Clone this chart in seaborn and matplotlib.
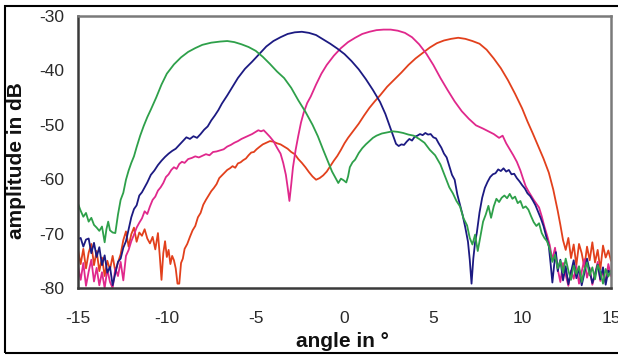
import numpy as np
import pandas as pd

import matplotlib
matplotlib.use('Agg')
import matplotlib.pyplot as plt
from matplotlib.patches import Rectangle
import seaborn as sns

# beam patterns (angle in deg, amplitude in dB)
green_angle = [-15.0, -14.85, -14.7, -14.55, -14.4, -14.25, -14.1, -13.95, -13.8, -13.65, -13.5, -13.4, -13.3, -13.2,
               -13.05, -12.9, -12.75, -12.6, -12.45, -12.3, -12.15, -12.0, -11.85, -11.7, -11.5, -11.3, -11.1, -10.9,
               -10.6, -10.3, -10.0, -9.6, -9.2, -8.8, -8.4, -8.0, -7.5, -7.0, -6.6, -6.2, -5.8, -5.4, -5.0, -4.6,
               -4.2, -3.8, -3.4, -3.0, -2.6, -2.2, -1.8, -1.5, -1.2, -0.9, -0.7, -0.5, -0.35, -0.2, -0.05, 0.1,
               0.2, 0.3, 0.45, 0.6, 0.8, 1.0, 1.2, 1.4, 1.6, 1.8, 2.1, 2.4, 2.7, 3.0, 3.3, 3.6, 3.9, 4.2, 4.5,
               4.8, 5.1, 5.4, 5.7, 5.9, 6.1, 6.3, 6.5, 6.7, 6.9, 7.05, 7.2, 7.35, 7.5, 7.65, 7.8, 7.95, 8.1, 8.25,
               8.4, 8.55, 8.7, 8.85, 9.0, 9.15, 9.3, 9.45, 9.6, 9.75, 9.9, 10.05, 10.2, 10.35, 10.5, 10.65, 10.8,
               10.95, 11.1, 11.25, 11.4, 11.55, 11.7, 11.85, 12.0, 12.15, 12.3, 12.45, 12.6, 12.75, 12.9, 13.05,
               13.2, 13.35, 13.5, 13.65, 13.8, 13.95, 14.1, 14.25, 14.4, 14.55, 14.7, 14.85, 15.0]
green_db = [-64.5, -65.8, -66.9, -66.2, -67.8, -67.1, -68.4, -68.9, -69.5, -68.7, -71.6, -69.2, -67.8, -69.4,
            -69.8, -69.9, -66.5, -63.8, -62.5, -60.1, -58.4, -57.0, -55.8, -54.1, -52.0, -50.2, -48.6, -47.2,
            -45.0, -42.6, -40.6, -38.9, -37.6, -36.6, -35.9, -35.3, -34.9, -34.7, -34.6, -34.8, -35.2, -35.7,
            -36.4, -37.5, -38.8, -40.2, -41.4, -43.2, -45.5, -47.6, -50.0, -52.1, -54.6, -57.0, -58.6, -59.8,
            -60.7, -59.9, -60.2, -60.6, -59.5, -57.8, -56.9, -56.4, -55.2, -54.3, -53.6, -53.0, -52.4, -52.0,
            -51.6, -51.4, -51.2, -51.3, -51.5, -51.8, -52.0, -52.6, -53.3, -54.6, -55.6, -57.3, -59.8, -61.5,
            -62.6, -64.0, -65.0, -67.2, -68.5, -70.8, -72.0, -70.2, -73.2, -70.5, -67.8, -66.5, -64.9, -67.1,
            -65.0, -63.6, -64.2, -63.4, -63.0, -63.5, -62.7, -63.6, -63.2, -64.4, -64.0, -65.3, -65.0, -65.6,
            -66.8, -67.9, -68.6, -68.1, -69.9, -70.8, -71.4, -72.8, -75.2, -73.9, -76.4, -75.0, -77.2, -74.6,
            -76.8, -78.5, -75.9, -77.4, -76.0, -78.9, -76.6, -75.3, -77.7, -76.2, -78.4, -75.8, -77.0, -79.2,
            -76.5, -77.9, -76.8]

blue_angle = [-15.0, -14.85, -14.7, -14.55, -14.4, -14.25, -14.1, -13.95, -13.8, -13.65, -13.5, -13.35, -13.2,
              -13.05, -12.9, -12.75, -12.6, -12.45, -12.3, -12.15, -12.0, -11.85, -11.7, -11.55, -11.4, -11.25,
              -11.1, -10.9, -10.7, -10.5, -10.3, -10.1, -9.9, -9.7, -9.5, -9.3, -9.1, -8.9, -8.7, -8.5, -8.3,
              -8.1, -7.9, -7.7, -7.5, -7.3, -7.1, -6.9, -6.6, -6.3, -6.0, -5.6, -5.2, -4.8, -4.4, -4.0, -3.6,
              -3.2, -2.8, -2.4, -2.0, -1.6, -1.2, -0.8, -0.4, 0.0, 0.4, 0.8, 1.2, 1.6, 2.0, 2.3, 2.55, 2.75,
              2.9, 3.05, 3.2, 3.35, 3.5, 3.65, 3.8, 3.95, 4.1, 4.25, 4.4, 4.55, 4.7, 4.85, 5.0, 5.15, 5.3, 5.45,
              5.6, 5.75, 5.9, 6.05, 6.2, 6.35, 6.5, 6.65, 6.8, 6.95, 7.05, 7.15, 7.25, 7.35, 7.45, 7.6, 7.75,
              7.9, 8.05, 8.2, 8.35, 8.5, 8.65, 8.8, 8.95, 9.1, 9.25, 9.4, 9.55, 9.7, 9.85, 10.0, 10.15, 10.3,
              10.45, 10.6, 10.75, 10.9, 11.05, 11.2, 11.35, 11.5, 11.6, 11.7, 11.8, 11.9, 12.0, 12.15, 12.3,
              12.45, 12.6, 12.75, 12.9, 13.05, 13.2, 13.35, 13.5, 13.65, 13.8, 13.95, 14.1, 14.25, 14.4, 14.55,
              14.7, 14.85, 15.0]
blue_db = [-71.0, -70.8, -72.4, -71.1, -70.9, -73.6, -71.7, -74.3, -72.5, -75.8, -74.0, -77.2, -76.1, -79.5,
           -77.3, -75.2, -74.6, -72.6, -71.4, -69.2, -67.0, -65.5, -64.8, -63.0, -62.4, -61.5, -60.6, -59.2,
           -58.4, -57.4, -56.6, -55.9, -55.3, -54.8, -54.4, -53.7, -53.0, -52.3, -52.6, -52.1, -52.4, -51.7,
           -50.9, -50.3, -49.2, -48.3, -47.3, -46.1, -44.6, -43.0, -41.4, -39.7, -38.4, -37.0, -35.6, -34.6,
           -33.9, -33.3, -33.0, -32.9, -33.1, -33.5, -34.3, -35.1, -36.0, -37.0, -38.3, -39.8, -41.6, -43.6,
           -45.8, -48.0, -50.3, -52.1, -53.5, -53.9, -53.6, -53.7, -53.1, -52.6, -52.9, -52.2, -52.0, -51.7,
           -51.9, -51.5, -51.8, -51.7, -52.3, -52.5, -53.4, -54.2, -55.3, -56.0, -57.6, -59.2, -60.1, -62.8,
           -64.7, -66.6, -68.9, -71.5, -74.8, -79.2, -74.6, -71.6, -69.8, -66.1, -63.4, -61.6, -60.5, -59.6,
           -59.1, -58.9, -58.2, -58.5, -58.0, -58.6, -58.3, -59.1, -59.0, -59.8, -60.4, -61.1, -61.7, -62.6,
           -63.1, -63.9, -64.8, -66.0, -67.2, -68.6, -70.5, -72.3, -75.5, -79.0, -75.8, -73.4, -76.9, -74.8,
           -78.6, -76.0, -79.3, -77.1, -74.9, -78.2, -76.4, -79.5, -77.3, -74.6, -76.9, -79.1, -77.5, -75.7,
           -78.4, -76.2, -79.4, -76.8, -77.4]

pink_angle = [-15.0, -14.85, -14.7, -14.55, -14.4, -14.25, -14.1, -13.95, -13.8, -13.65, -13.5, -13.35, -13.2,
              -13.05, -12.9, -12.75, -12.6, -12.45, -12.3, -12.15, -12.0, -11.85, -11.7, -11.55, -11.4, -11.25,
              -11.1, -10.95, -10.8, -10.65, -10.5, -10.35, -10.2, -10.05, -9.9, -9.75, -9.6, -9.45, -9.3, -9.15,
              -9.0, -8.8, -8.6, -8.4, -8.2, -8.0, -7.8, -7.6, -7.4, -7.2, -7.0, -6.8, -6.6, -6.4, -6.2, -6.0,
              -5.8, -5.6, -5.4, -5.2, -5.0, -4.85, -4.7, -4.55, -4.4, -4.2, -4.0, -3.8, -3.6, -3.45, -3.3, -3.2,
              -3.1, -3.0, -2.9, -2.75, -2.6, -2.45, -2.3, -2.1, -1.9, -1.6, -1.3, -1.0, -0.6, -0.2, 0.2, 0.6,
              1.0, 1.4, 1.8, 2.2, 2.6, 3.0, 3.4, 3.8, 4.2, 4.6, 5.0, 5.4, 5.8, 6.2, 6.6, 7.0, 7.4, 7.8, 8.1,
              8.4, 8.7, 8.9, 9.1, 9.3, 9.5, 9.7, 9.9, 10.05, 10.2, 10.35, 10.5, 10.65, 10.8, 10.95, 11.1, 11.25,
              11.4, 11.55, 11.7, 11.85, 12.0, 12.15, 12.3, 12.45, 12.6, 12.75, 12.9, 13.05, 13.2, 13.35, 13.5,
              13.65, 13.8, 13.95, 14.1, 14.25, 14.4, 14.55, 14.7, 14.85, 15.0]
pink_db = [-76.0, -78.5, -75.4, -79.6, -77.0, -74.8, -78.8, -76.3, -79.5, -77.1, -80.0, -76.6, -78.9, -80.0,
           -76.4, -77.8, -75.2, -78.6, -74.1, -73.0, -71.4, -70.2, -68.9, -68.0, -67.2, -65.9, -66.4, -65.0,
           -63.8, -63.2, -62.1, -61.5, -60.7, -59.6, -59.1, -58.3, -57.8, -58.1, -57.2, -56.8, -57.0, -56.3,
           -56.1, -55.8, -56.0, -55.7, -55.4, -55.6, -55.0, -54.9, -54.7, -54.5, -54.0, -53.7, -53.3, -53.0,
           -52.6, -52.3, -52.0, -51.7, -51.3, -51.0, -51.2, -51.0, -51.5, -52.2, -53.0, -54.2, -55.3, -57.0,
           -59.2, -61.5, -64.0, -61.0, -57.8, -54.6, -52.0, -49.6, -47.8, -46.0, -44.8, -42.6, -40.6, -39.0,
           -37.3, -35.9, -34.8, -34.0, -33.3, -32.9, -32.6, -32.5, -32.5, -32.7, -33.1, -33.9, -35.2, -36.9,
           -39.0, -41.4, -43.6, -45.7, -47.5, -48.9, -50.1, -50.7, -51.2, -51.7, -52.4, -52.0, -53.4, -54.5,
           -55.6, -56.8, -58.4, -59.9, -61.3, -62.2, -63.0, -63.8, -64.5, -65.2, -66.8, -68.7, -70.3, -72.1,
           -74.8, -72.6, -76.5, -78.9, -75.4, -77.6, -79.6, -76.8, -78.3, -75.9, -79.2, -77.0, -74.7, -78.1,
           -76.3, -79.4, -77.5, -75.2, -78.7, -76.9, -79.0, -75.6, -77.8]

red_angle = [-15.0, -14.85, -14.7, -14.55, -14.4, -14.25, -14.1, -13.95, -13.8, -13.65, -13.5, -13.35, -13.2,
             -13.05, -12.9, -12.75, -12.6, -12.45, -12.3, -12.15, -12.0, -11.85, -11.7, -11.55, -11.4, -11.25,
             -11.1, -10.95, -10.8, -10.65, -10.5, -10.4, -10.3, -10.2, -10.1, -10.0, -9.9, -9.8, -9.7, -9.6,
             -9.5, -9.4, -9.3, -9.2, -9.1, -9.0, -8.85, -8.7, -8.55, -8.4, -8.25, -8.1, -7.95, -7.8, -7.65,
             -7.5, -7.35, -7.2, -7.05, -6.9, -6.75, -6.6, -6.45, -6.3, -6.15, -6.0, -5.85, -5.7, -5.55, -5.4,
             -5.25, -5.1, -4.95, -4.8, -4.6, -4.4, -4.2, -4.0, -3.8, -3.6, -3.4, -3.2, -3.0, -2.8, -2.6, -2.4,
             -2.2, -2.0, -1.8, -1.6, -1.4, -1.2, -1.0, -0.8, -0.6, -0.4, -0.2, 0.0, 0.2, 0.5, 0.8, 1.1, 1.4,
             1.7, 2.0, 2.4, 2.8, 3.2, 3.6, 4.0, 4.4, 4.8, 5.2, 5.6, 6.0, 6.4, 6.8, 7.2, 7.6, 8.0, 8.4, 8.8,
             9.2, 9.6, 10.0, 10.3, 10.6, 10.9, 11.2, 11.5, 11.75, 12.0, 12.15, 12.3, 12.45, 12.6, 12.75, 12.9,
             13.05, 13.2, 13.35, 13.5, 13.65, 13.8, 13.95, 14.1, 14.25, 14.4, 14.55, 14.7, 14.85, 15.0]
red_db = [-73.0, -75.6, -72.8, -76.4, -73.5, -71.9, -75.8, -73.2, -76.9, -74.4, -77.8, -75.0, -76.6, -74.1,
          -77.0, -75.3, -73.8, -71.2, -69.6, -72.4, -70.1, -68.9, -71.5, -69.8, -70.4, -69.2, -70.9, -71.8,
          -70.6, -72.9, -69.9, -74.0, -78.5, -73.6, -71.4, -74.3, -73.0, -75.6, -74.1, -74.9, -76.4, -79.2,
          -79.2, -75.4, -74.6, -72.8, -71.9, -70.6, -69.4, -68.6, -67.0, -66.2, -64.7, -63.8, -63.0, -62.2,
          -61.6, -60.9, -59.8, -59.3, -58.8, -58.3, -58.0, -57.6, -57.9, -57.1, -56.9, -56.5, -56.2, -55.6,
          -55.1, -55.0, -54.5, -54.1, -53.6, -53.3, -53.0, -53.1, -53.4, -53.6, -54.0, -54.4, -55.0, -55.4,
          -56.3, -57.0, -57.8, -58.7, -59.5, -60.1, -59.8, -59.3, -58.6, -57.6, -56.6, -55.7, -54.6, -53.4,
          -52.4, -51.1, -49.8, -48.3, -46.9, -45.7, -44.6, -43.0, -41.7, -40.4, -39.0, -37.8, -36.8, -35.8,
          -35.0, -34.5, -34.2, -34.0, -34.2, -34.6, -35.1, -36.2, -37.8, -39.6, -41.8, -44.3, -47.0, -49.4,
          -51.6, -53.9, -56.2, -58.8, -61.9, -65.8, -68.4, -71.2, -73.0, -70.8, -74.5, -72.0, -75.8, -71.9,
          -73.6, -76.2, -72.4, -74.9, -71.6, -75.3, -73.0, -76.6, -72.2, -74.4, -73.1, -75.0]

series_names = ['red', 'pink', 'blue', 'green']
series_colors = {'red': '#e2401c', 'pink': '#e0288c', 'blue': '#1c1a82', 'green': '#2ea04a'}

frames = []
for name, ang, db in [('red', red_angle, red_db), ('pink', pink_angle, pink_db),
                      ('blue', blue_angle, blue_db), ('green', green_angle, green_db)]:
    frames.append(pd.DataFrame({'angle': ang, 'db': db, 'beam': name}))
data = pd.concat(frames, ignore_index=True)

sns.set_style('white')
plt.rcParams['font.family'] = ['Liberation Sans', 'DejaVu Sans']
plt.rcParams['axes.unicode_minus'] = False

fig = plt.figure(figsize=(6.18, 3.56), dpi=100)
ax = fig.add_axes([78 / 618, 1 - 288 / 356, 533 / 618, 272 / 356])

sns.lineplot(data=data, x='angle', y='db', hue='beam', hue_order=series_names,
             palette=series_colors, estimator=None, sort=False, legend=False,
             linewidth=1.3, ax=ax)

ax.set_xlim(-15, 15)
ax.set_ylim(-80, -30)
ax.set_xticks(np.arange(-15, 16, 5))
ax.set_yticks(np.arange(-80, -29, 10))
ax.tick_params(axis='both', direction='out', length=5.5, width=1.2, colors='#333333',
               labelsize=12.5, labelcolor='#2a2a2a')
ax.tick_params(axis='x', pad=11)
ax.tick_params(axis='y', pad=4.5)

for side in ['left', 'bottom']:
    ax.spines[side].set_color('#3a3a3a')
    ax.spines[side].set_linewidth(1.8)
for side in ['top', 'right']:
    ax.spines[side].set_color('#7a7a7a')
    ax.spines[side].set_linewidth(1.8)

ax.set_xlabel('angle in °', fontsize=15, fontweight='bold', color='#111111')
ax.set_ylabel('amplitude in dB', fontsize=15, fontweight='bold', color='#111111')
ax.xaxis.set_label_coords(0.497, -0.163)
ax.yaxis.set_label_coords(-0.098, 0.467)

# outer frame around the picture (its right side lies past the image edge)
fig.add_artist(Rectangle((5 / 618, 3 / 356), 620 / 618, 347 / 356, transform=fig.transFigure,
                         fill=False, edgecolor='black', linewidth=1.5))

plt.savefig('out.png', dpi=100)
plt.close()
